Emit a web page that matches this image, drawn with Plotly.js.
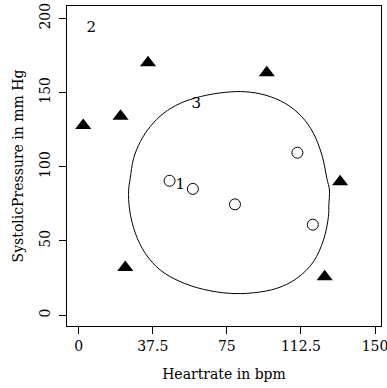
<!DOCTYPE html>
<html>
<head>
<meta charset="utf-8">
<script src="https://cdn.plot.ly/plotly-3.0.1.min.js"></script>
<style>html,body{margin:0;padding:0;background:#fff;}#chart{width:387px;height:388px;}</style>
</head>
<body>
<div id="chart"></div>
<script>
// Cluster 1 members (open circles)
var circleX = [46.0, 57.8, 79.1, 110.7, 118.5];
var circleY = [90.5, 85.0, 74.6, 109.4, 60.9];
// Cluster 2 members (filled triangles)
var triX = [2.3, 21.2, 35.1, 95.2, 132.3, 124.5, 23.6];
var triY = [127.8, 134.0, 170.0, 163.3, 89.8, 25.8, 32.0];
// Cluster boundary contour
var curveX = [74.2, 84.3, 94.3, 104.5, 112.9, 118.8, 123.1, 125.6, 126.9, 126.6, 126.4, 123.9, 118.8, 110.4, 100.3, 88.5, 76.7, 63.2, 51.4, 41.3, 33.7, 28.7, 25.8, 25.3, 26.1, 27.8, 31.2, 36.2, 43.0, 51.4, 61.5, 74.2];
var curveY = [150.1, 150.5, 148.3, 142.7, 133.7, 122.5, 107.9, 92.1, 84.3, 74.1, 66.3, 50.6, 35.9, 24.7, 18.0, 15.0, 14.6, 17.3, 22.5, 30.3, 41.6, 55.1, 70.8, 84.3, 92.2, 105.6, 116.8, 127.0, 136.0, 142.7, 147.2, 150.1];
// Text labels
var labelText = ["1", "2", "3"];
var labelX = [51.4, 6.4, 59.5];
var labelY = [87.2, 193.3, 142.0];
// Axis ticks
var xTicks = [0, 37.5, 75, 112.5, 150];
var xTickText = ["0", "37.5", "75", "112.5", "150"];
var yTicks = [0, 50, 100, 150, 200];
var yTickText = ["0", "50", "100", "150", "200"];

var FONT = "DejaVu Serif";

var traces = [
  {x: curveX, y: curveY, mode: "lines", type: "scatter",
   line: {color: "#000", width: 1, shape: "spline", smoothing: 1}, hoverinfo: "skip"},
  {x: circleX, y: circleY, mode: "markers", type: "scatter",
   marker: {symbol: "circle-open", size: 11, color: "#000", line: {width: 1, color: "#000"}}},
  {x: triX, y: triY, mode: "markers", type: "scatter",
   marker: {symbol: "triangle-up", size: 14, color: "#000", line: {width: 0}}},
  {x: labelX, y: labelY, mode: "text", type: "scatter", text: labelText,
   textfont: {family: FONT, size: 15, color: "#000"}, textposition: "middle center"}
];

var layout = {
  width: 387, height: 388,
  margin: {l: 67, r: 6, t: 6, b: 62, pad: 0},
  paper_bgcolor: "#fff", plot_bgcolor: "#fff",
  showlegend: false,
  font: {family: FONT, size: 14, color: "#000"},
  xaxis: {
    range: [-5.9, 153], showgrid: false, zeroline: false,
    showline: true, mirror: true, linecolor: "#000", linewidth: 1,
    ticks: "outside", ticklen: 7, tickcolor: "#000", tickwidth: 1,
    tickmode: "array", tickvals: xTicks, ticktext: xTickText,
    ticklabeloverflow: "allow",
    tickfont: {family: FONT, size: 14, color: "#000"},
    title: {text: "Heartrate in bpm", font: {family: FONT, size: 14, color: "#000"}, standoff: 16}
  },
  yaxis: {
    range: [-7.4, 208.3], showgrid: false, zeroline: false,
    showline: true, mirror: true, linecolor: "#000", linewidth: 1,
    ticks: "outside", ticklen: 7, tickcolor: "#000", tickwidth: 1,
    tickmode: "array", tickvals: yTicks, ticktext: yTickText, tickangle: -90,
    ticklabeloverflow: "allow", ticklabelstandoff: 3,
    tickfont: {family: FONT, size: 14, color: "#000"},
    title: {text: "SystolicPressure in mm Hg", font: {family: FONT, size: 14, color: "#000"}, standoff: 10}
  }
};

Plotly.newPlot("chart", traces, layout, {displayModeBar: false, staticPlot: true});
</script>
</body>
</html>
